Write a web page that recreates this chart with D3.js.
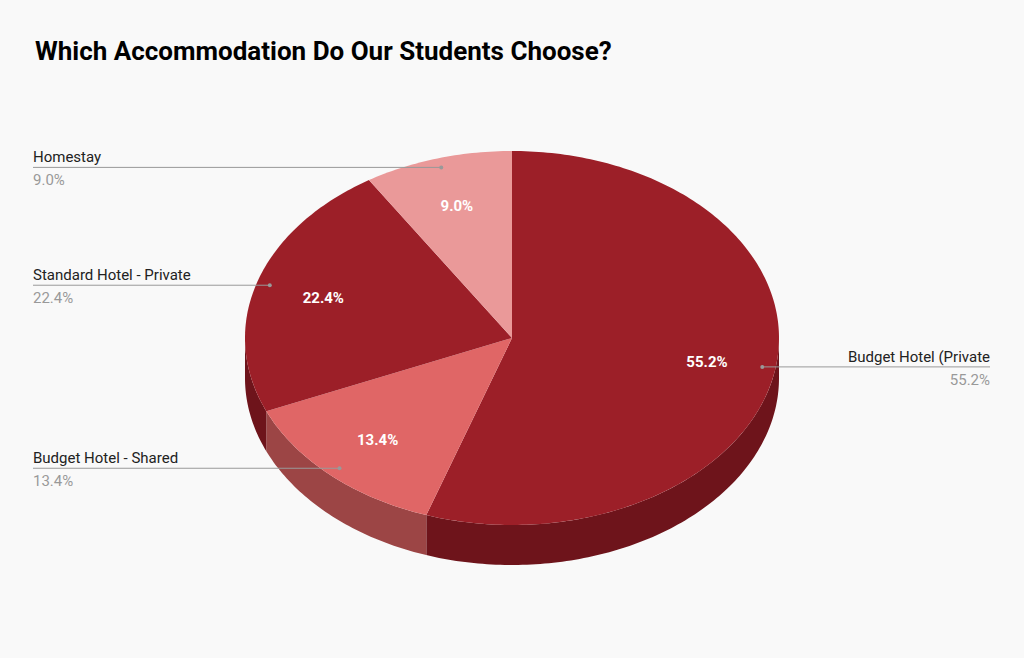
<!DOCTYPE html>
<html><head><meta charset="utf-8">
<script src="https://cdn.jsdelivr.net/npm/d3@7"></script>
<style>body{margin:0;background:#f9f9f9;}svg{display:block;font-family:Roboto,Arial,sans-serif;}</style>
</head><body><svg id="c" width="1024" height="658"></svg>
<script>
const categories = ["Budget Hotel (Private", "Budget Hotel - Shared", "Standard Hotel - Private", "Homestay"];
const values = [55.2, 13.4, 22.4, 9.0];
const topColors = ["#9c1f28", "#e06666", "#9c1f28", "#ea9999"];
const sideColors = ["#6e141b", "#9c4545", "#6e141b", "#a36b6b"];

const svg = d3.select("#c");
svg.append("rect").attr("width",1024).attr("height",658).attr("fill","#f9f9f9");
svg.append("text").attr("x",35).attr("y",60).attr("font-size",26).attr("font-weight","bold").attr("fill","#000")
  .text("Which Accommodation Do Our Students Choose?");

const cx=512, cy=338, rx=267, ry=187, depth=40;
const pie = d3.pie().sort(null).value(d=>d)(values);
const P = (a,r=1,dy=0)=>[cx+rx*r*Math.sin(a), cy-ry*r*Math.cos(a)+dy];

function arcPts(a0,a1,dy){const n=Math.max(2,Math.ceil(Math.abs(a1-a0)*60));return d3.range(n+1).map(i=>P(a0+(a1-a0)*i/n,1,dy));}

// side walls
pie.forEach((s,i)=>{
  const a0=Math.max(s.startAngle,Math.PI/2), a1=Math.min(s.endAngle,3*Math.PI/2);
  if(a1<=a0) return;
  const pts=arcPts(a0,a1,0).concat(arcPts(a1,a0,depth));
  svg.append("path").attr("d",d3.line()(pts)+"Z").attr("fill",sideColors[i]);
});
// tops
pie.forEach((s,i)=>{
  const pts=[[cx,cy]].concat(arcPts(s.startAngle,s.endAngle,0));
  svg.append("path").attr("d",d3.line()(pts)+"Z").attr("fill",topColors[i]);
});
// inner labels
pie.forEach((s,i)=>{
  const m=(s.startAngle+s.endAngle)/2, p=P(m,0.74);
  svg.append("text").attr("x",p[0]).attr("y",p[1]+6).attr("text-anchor","middle").attr("font-size",15)
    .attr("font-weight","bold").attr("fill","#fff").text(values[i].toFixed(1)+"%");
});
// leader labels
pie.forEach((s,i)=>{
  const m=(s.startAngle+s.endAngle)/2, p=P(m,0.95);
  const right=Math.sin(m)>0;
  const x2=right?990:33;
  svg.append("line").attr("x1",p[0]).attr("y1",p[1]).attr("x2",x2).attr("y2",p[1]).attr("stroke","#999").attr("stroke-width",1);
  svg.append("circle").attr("cx",p[0]).attr("cy",p[1]).attr("r",2).attr("fill","#999");
  const anchor=right?"end":"start";
  svg.append("text").attr("x",x2).attr("y",p[1]-5).attr("text-anchor",anchor).attr("font-size",15).attr("fill","#222").text(categories[i]);
  svg.append("text").attr("x",x2).attr("y",p[1]+18).attr("text-anchor",anchor).attr("font-size",15).attr("fill","#999").text(values[i].toFixed(1)+"%");
});
</script></body></html>
